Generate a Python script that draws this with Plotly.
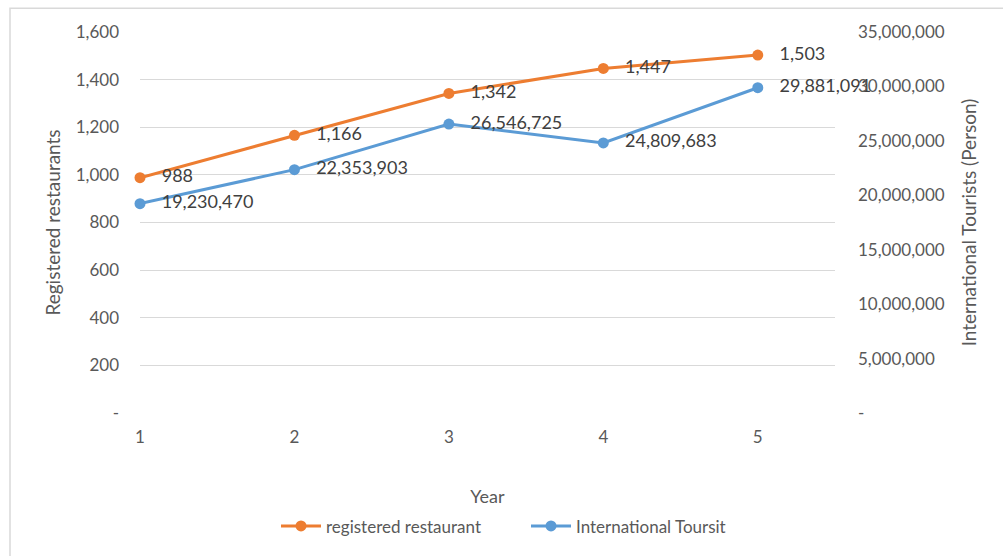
import plotly.graph_objects as go

years = [1, 2, 3, 4, 5]
restaurants = [988, 1166, 1342, 1447, 1503]
tourists = [19230470, 22353903, 26546725, 24809683, 29881091]

left_ticks = [0, 200, 400, 600, 800, 1000, 1200, 1400, 1600]
left_text = ["-", "200", "400", "600", "800", "1,000", "1,200", "1,400", "1,600"]
right_ticks = [0, 5e6, 10e6, 15e6, 20e6, 25e6, 30e6, 35e6]
right_text = ["-", "5,000,000", "10,000,000", "15,000,000", "20,000,000",
              "25,000,000", "30,000,000", "35,000,000"]

ORANGE = "#ED7D31"
BLUE = "#5B9BD5"
FONT = "Lato, Open Sans, sans-serif"
TXT = "#595959"
LBL = "#404040"

fig = go.Figure()
fig.add_trace(go.Scatter(
    x=years, y=restaurants, name="registered restaurant",
    mode="lines+markers+text",
    line=dict(color=ORANGE, width=3), marker=dict(size=11, color=ORANGE),
    text=["   " + f"{v:,}" for v in restaurants], textposition="middle right",
    textfont=dict(size=18, color=LBL, family=FONT),
    yaxis="y", cliponaxis=False,
))
fig.add_trace(go.Scatter(
    x=years, y=tourists, name="International Toursit",
    mode="lines+markers+text",
    line=dict(color=BLUE, width=3), marker=dict(size=11, color=BLUE),
    text=["   " + f"{v:,}" for v in tourists], textposition="middle right",
    textfont=dict(size=18, color=LBL, family=FONT),
    yaxis="y2", cliponaxis=False,
))

W, H = 1003, 556
L, R, T, B = 140, 168, 32, 141
pw, ph = W - L - R, H - T - B

def px(x):
    return (x - L) / pw

def py(y):
    return (H - B - y) / ph

fig.update_layout(
    width=W, height=H,
    margin=dict(l=L, r=R, t=T, b=B),
    paper_bgcolor="white", plot_bgcolor="white",
    font=dict(family=FONT, size=17, color=TXT),
    showlegend=True,
    legend=dict(orientation="h", x=px(276), xanchor="left", y=py(529), yanchor="middle",
                font=dict(size=17, color=TXT), itemwidth=40, tracegroupgap=0,
                entrywidth=195, entrywidthmode="pixels"),
    xaxis=dict(range=[1, 5.5], tickvals=years, ticktext=[str(v) for v in years],
               showgrid=False, zeroline=False, showline=False, ticks="",
               ticklabelstandoff=12, tickfont=dict(size=17),
               title=dict(text="Year", font=dict(size=18, color=TXT), standoff=44)),
    yaxis=dict(range=[0, 1600], tickvals=left_ticks, ticktext=left_text,
               showgrid=True, gridcolor="#D9D9D9", gridwidth=1, zeroline=False,
               showline=False, ticks="", ticklabelstandoff=20, tickfont=dict(size=17),
               title=dict(text="Registered restaurants", font=dict(size=19, color=TXT), standoff=10)),
    yaxis2=dict(range=[0, 35e6], tickvals=right_ticks, ticktext=right_text,
                overlaying="y", side="right", showgrid=False, zeroline=False,
                showline=False, ticks="", ticklabelstandoff=22, tickfont=dict(size=17),
                title=dict(text="International Tourists (Person)", font=dict(size=19, color=TXT), standoff=18)),
    shapes=[dict(type="rect", xref="paper", yref="paper",
                 x0=px(10), x1=px(1012), y0=py(565), y1=py(8),
                 line=dict(color="#D9D9D9", width=1.5), fillcolor="rgba(0,0,0,0)", layer="below")],
)

fig.write_html("out.html")
